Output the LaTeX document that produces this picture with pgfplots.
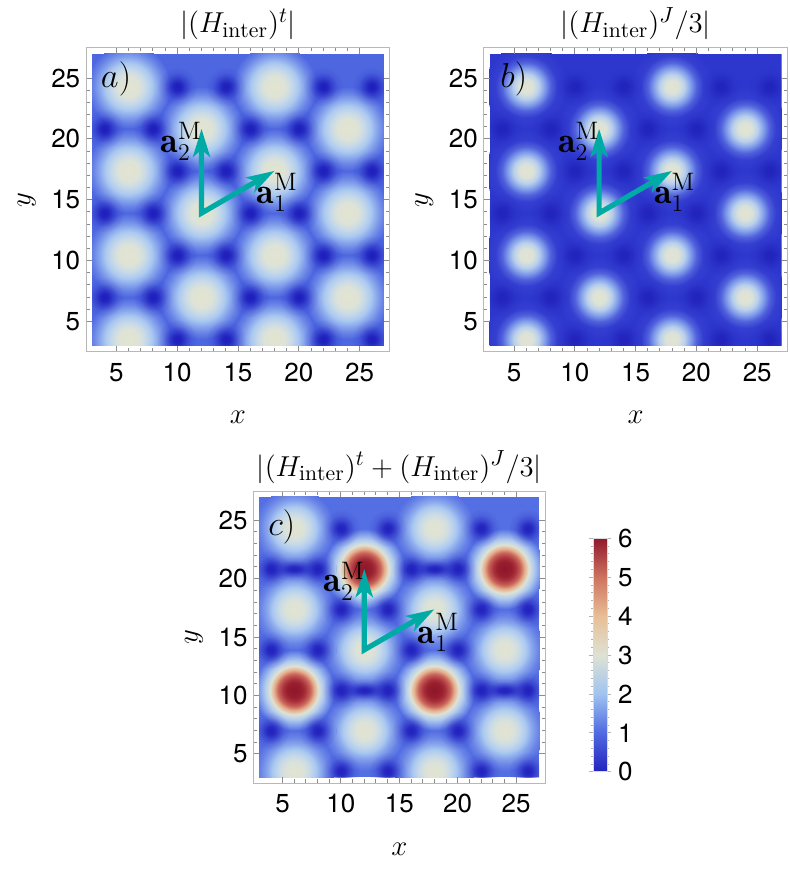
\documentclass[border=0pt]{standalone}
\usepackage{fontspec}
\setsansfont{TeX Gyre Heros}
\usepackage{pgfplots}
\pgfplotsset{compat=1.18}
\usetikzlibrary{arrows.meta,fadings}

% colours
\definecolor{cr}{RGB}{226,228,208}
\definecolor{bgA}{RGB}{78,103,225}
\definecolor{bgB}{RGB}{45,55,206}
\definecolor{bgC}{RGB}{84,110,227}
\definecolor{dkA}{RGB}{30,30,188}
\definecolor{dkB}{RGB}{34,36,188}
\definecolor{dkC}{RGB}{34,34,190}
\definecolor{arrc}{RGB}{0,170,165}

\definecolor{a1}{RGB}{222,227,214}
\definecolor{a2}{RGB}{200,218,232}
\definecolor{a3}{RGB}{170,200,240}
\definecolor{a4}{RGB}{135,165,236}
\definecolor{a5}{RGB}{105,132,230}
\pgfdeclareradialshading{shA}{\pgfpointorigin}{color(0bp)=(cr); color(12bp)=(a1); color(20bp)=(a2); color(28bp)=(a3); color(35bp)=(a4); color(42bp)=(a5); color(50bp)=(bgA)}

\definecolor{b1}{RGB}{220,226,216}
\definecolor{b2}{RGB}{185,208,236}
\definecolor{b3}{RGB}{130,158,234}
\definecolor{b4}{RGB}{80,97,220}
\definecolor{b5}{RGB}{52,62,208}
\pgfdeclareradialshading{shB}{\pgfpointorigin}{color(0bp)=(cr); color(8bp)=(b1); color(15bp)=(b2); color(22bp)=(b3); color(29bp)=(b4); color(37bp)=(b5); color(50bp)=(bgB)}

\definecolor{c1}{RGB}{220,226,216}
\definecolor{c2}{RGB}{200,218,232}
\definecolor{c3}{RGB}{170,200,240}
\definecolor{c4}{RGB}{135,165,236}
\definecolor{c5}{RGB}{105,132,230}
\pgfdeclareradialshading{shC}{\pgfpointorigin}{color(0bp)=(cr); color(11bp)=(c1); color(19bp)=(c2); color(27bp)=(c3); color(34bp)=(c4); color(42bp)=(c5); color(50bp)=(bgC)}

\definecolor{r0}{RGB}{142,22,42}
\definecolor{r1}{RGB}{150,30,45}
\definecolor{r2}{RGB}{170,50,60}
\definecolor{r3}{RGB}{200,100,90}
\definecolor{r4}{RGB}{230,175,140}
\definecolor{r5}{RGB}{222,226,212}
\definecolor{r6}{RGB}{180,205,238}
\definecolor{r7}{RGB}{130,160,234}
\pgfdeclareradialshading{shR}{\pgfpointorigin}{color(0bp)=(r0); color(9bp)=(r1); color(14bp)=(r2); color(20bp)=(r3); color(25bp)=(r4); color(30bp)=(r5); color(36bp)=(r6); color(43bp)=(r7); color(50bp)=(bgC)}

% fading: white = opaque, black = transparent
\definecolor{f1}{gray}{0.9}
\definecolor{f2}{gray}{0.5}
\definecolor{f3}{gray}{0.15}
\pgfdeclareradialshading{dfsh}{\pgfpointorigin}{color(0bp)=(white); color(10bp)=(f1); color(22bp)=(f2); color(35bp)=(f3); color(50bp)=(black)}
\pgfdeclarefading{dfade}{\pgfuseshading{dfsh}}

% a shaded disc of radius = mark size (shading scaled so 50bp = radius)
\newcommand\shademark[1]{%
  \begin{pgfscope}%
  \pgfpathcircle{\pgfpointorigin}{\pgfplotmarksize}\pgfusepath{clip}%
  \pgfmathsetmacro\mksc{\pgfplotmarksize/50.1875pt}%
  \pgftransformscale{\mksc}%
  \pgflowlevelsynccm
  \pgfuseshading{#1}%
  \end{pgfscope}}
\pgfdeclareplotmark{blobA}{\shademark{shA}}
\pgfdeclareplotmark{blobB}{\shademark{shB}}
\pgfdeclareplotmark{blobC}{\shademark{shC}}
\pgfdeclareplotmark{blobR}{\shademark{shR}}
\pgfdeclareplotmark{dark}{%
  \begin{pgfscope}%
  \pgfmathsetmacro\mksc{\pgfplotmarksize/50.1875pt}%
  \pgflowlevelsynccm
  \pgfsetfading{dfade}{\pgftransformscale{\mksc}}%
  \pgfpathcircle{\pgfpointorigin}{\pgfplotmarksize}%
  \pgfusepath{fill}%
  \end{pgfscope}}
\pgfdeclareplotmark{bar}{%
  \begin{pgfscope}%
  \pgfmathsetmacro\mksc{\pgfplotmarksize/50.1875pt}%
  \pgfmathsetmacro\mkscy{0.45*\mksc}%
  \pgflowlevelsynccm
  \pgfsetfading{dfade}{\pgftransformxscale{\mksc}\pgftransformyscale{\mkscy}}%
  \pgfpathellipse{\pgfpointorigin}{\pgfpoint{\pgfplotmarksize}{0pt}}{\pgfpoint{0pt}{0.45\pgfplotmarksize}}%
  \pgfusepath{fill}%
  \end{pgfscope}}

\pgfplotstableread{
x y
0 0.05
0 6.98
0 13.9
0 20.83
0 27.76
12 0.05
12 6.98
12 13.9
12 20.83
12 27.76
24 0.05
24 6.98
24 13.9
24 20.83
24 27.76
6 3.51
6 10.44
6 17.37
6 24.3
6 31.23
18 3.51
18 10.44
18 17.37
18 24.3
18 31.23
30 3.51
30 10.44
30 17.37
30 24.3
30 31.23
}\sites

\pgfplotstableread{
x y
2 3.51
2 10.44
2 17.37
2 24.3
10 3.51
10 10.44
10 17.37
10 24.3
14 3.51
14 10.44
14 17.37
14 24.3
22 3.51
22 10.44
22 17.37
22 24.3
26 3.51
26 10.44
26 17.37
26 24.3
4 0.05
4 6.98
4 13.9
4 20.83
4 27.76
8 0.05
8 6.98
8 13.9
8 20.83
8 27.76
16 0.05
16 6.98
16 13.9
16 20.83
16 27.76
20 0.05
20 6.98
20 13.9
20 20.83
20 27.76
28 0.05
28 6.98
28 13.9
28 20.83
28 27.76
}\minima

\pgfplotstableread{
x y
0 0.05
12 0.05
24 0.05
6 10.44
18 10.44
30 10.44
0 20.83
12 20.83
24 20.83
6 31.23
18 31.23
30 31.23
}\redsites

\pgfplotstableread{
x y
0 13.9
12 13.9
24 13.9
6 3.51
18 3.51
30 3.51
6 24.3
18 24.3
30 24.3
6 17.37
18 17.37
30 17.37
0 6.98
12 6.98
24 6.98
0 27.76
12 27.76
24 27.76
}\creamsites

\pgfplotstableread{
x y
0 10.44
12 10.44
24 10.44
6 0.05
18 0.05
30 0.05
6 20.83
18 20.83
30 20.83
}\bars

\pgfplotsset{
  frm/.style={scale only axis, width=#1, height=#1,
    xmin=2.5, xmax=27.5, ymin=2.5, ymax=27.5,
    xtick={5,10,15,20,25}, ytick={5,10,15,20,25},
    minor tick num=4, tick align=inside,
    major tick length=3pt, minor tick length=1.8pt,
    axis line style={draw=black!28, line width=0.5pt},
    every tick/.style={draw=black!45, line width=0.45pt},
    tick label style={font=\sffamily\fontsize{13}{15}\selectfont},
    /pgf/number format/assume math mode=true,
    xticklabel style={anchor=north, inner sep=0pt, yshift=-5.5pt},
    yticklabel style={anchor=east, inner sep=0pt, xshift=-2.7pt},
    xlabel={$x$}, ylabel={$y$},
    every axis x label/.style={at={(axis description cs:0.5,0)}, anchor=base, yshift=-36pt, font=\fontsize{15}{17}\selectfont},
    every axis y label/.style={at={(axis description cs:0,0.5)}, xshift=-29.7pt, rotate=90, anchor=center, font=\fontsize{15}{17}\selectfont},
    every axis title/.style={at={(0.5,1)}, anchor=base, yshift=7.5pt, font=\fontsize{15.5}{17}\selectfont}},
  img/.style={scale only axis, width=#1, height=#1,
    xmin=3, xmax=27, ymin=3, ymax=27, hide axis, clip marker paths=true},
  arr/.style={color=arrc, line width=2.6pt, line join=miter,
    {Stealth[length=14pt,width=8.5pt,inset=3.5pt]}-{Stealth[length=14pt,width=8.5pt,inset=3.5pt]}},
}
\tikzset{
  lab/.style={inner sep=0pt, font=\fontsize{18}{20}\selectfont},
  plab/.style={inner sep=0pt, anchor=base west, font=\fontsize{19}{21}\selectfont},
}

\begin{document}
\begin{tikzpicture}
% ---- a) ----
\begin{axis}[img=145.92pt, at={(46.04pt,-26.89pt)}, anchor=north west]
\addplot[fill=bgA, draw=none] coordinates {(3,27)(27,27)} \closedcycle;
\addplot[only marks, mark=blobA, mark size=21.04pt] table {\sites};
\addplot[only marks, mark=dark, mark size=10pt, mark options={fill=dkA}] table {\minima};
\addplot[arr] coordinates {(18,17.37)(12,13.9)(12,20.83)};
\node[lab, anchor=base east] at (axis cs:12.05,18.9) {$\mathbf{a}_2^{\mathrm{M}}$};
\node[lab, anchor=base west] at (axis cs:16.5,14.7) {$\mathbf{a}_1^{\mathrm{M}}$};
\node[plab] at (axis cs:3.7,24.2) {$a)$};
\end{axis}
\begin{axis}[frm=152pt, at={(43pt,-23.85pt)}, anchor=north west,
  title={$|(H_{\mathrm{inter}})^t|$}]
\end{axis}

% ---- b) ----
\begin{axis}[img=145.92pt, at={(244.84pt,-26.89pt)}, anchor=north west]
\addplot[fill=bgB, draw=none] coordinates {(3,27)(27,27)} \closedcycle;
\addplot[only marks, mark=blobB, mark size=21.04pt] table {\sites};
\addplot[only marks, mark=dark, mark size=10pt, mark options={fill=dkB}] table {\minima};
\addplot[arr] coordinates {(18,17.37)(12,13.9)(12,20.83)};
\node[lab, anchor=base east] at (axis cs:12.05,18.9) {$\mathbf{a}_2^{\mathrm{M}}$};
\node[lab, anchor=base west] at (axis cs:16.5,14.7) {$\mathbf{a}_1^{\mathrm{M}}$};
\node[plab] at (axis cs:3.85,24.2) {$b)$};
\end{axis}
\begin{axis}[frm=152pt, at={(241.8pt,-23.85pt)}, anchor=north west,
  title={$|(H_{\mathrm{inter}})^J/3|$}]
\end{axis}

% ---- c) ----
\begin{axis}[img=140.16pt, at={(129.57pt,-248.42pt)}, anchor=north west]
\addplot[fill=bgC, draw=none] coordinates {(3,27)(27,27)} \closedcycle;
\addplot[only marks, mark=blobC, mark size=20.2pt] table {\creamsites};
\addplot[only marks, mark=blobR, mark size=20.2pt] table {\redsites};
\addplot[only marks, mark=dark, mark size=9.6pt, mark options={fill=dkC}] table {\minima};
\addplot[only marks, mark=bar, mark size=14pt, mark options={fill=dkC}] table {\bars};
\addplot[arr] coordinates {(18,17.37)(12,13.9)(12,20.83)};
\node[lab, anchor=base east] at (axis cs:12.07,18.86) {$\mathbf{a}_2^{\mathrm{M}}$};
\node[lab, anchor=base west] at (axis cs:16.55,14.45) {$\mathbf{a}_1^{\mathrm{M}}$};
\node[plab] at (axis cs:3.75,23.7) {$c)$};
\end{axis}
\begin{axis}[frm=146pt, at={(126.65pt,-245.5pt)}, anchor=north west,
  title={$|(H_{\mathrm{inter}})^t+(H_{\mathrm{inter}})^J/3|$},
  colormap={tmap}{rgb255=(35,35,190) rgb255=(80,105,225) rgb255=(160,195,240) rgb255=(222,226,212) rgb255=(232,190,150) rgb255=(205,115,95) rgb255=(145,25,45)},
  colorbar, point meta min=0, point meta max=6,
  colorbar style={scale only axis, width=7pt, height=116.7pt,
    at={(parent axis.south east)}, anchor=south west, xshift=15.35pt, yshift=5.65pt,
    ytick={0,1,2,3,4,5,6}, minor tick num=4, yticklabel pos=right,
    axis line style={draw=black!15}, every tick/.style={draw=black!30, line width=0.4pt},
    major tick length=2pt, minor tick length=1.2pt, tick align=outside,
    yticklabel style={font=\sffamily\fontsize{13}{15}\selectfont, anchor=west, inner sep=0pt, xshift=3.3pt},
    /pgf/number format/assume math mode=true}]
\end{axis}
\pgfresetboundingbox
\path[use as bounding box] (0,0) rectangle (394.5pt,-436pt);
\end{tikzpicture}
\end{document}
